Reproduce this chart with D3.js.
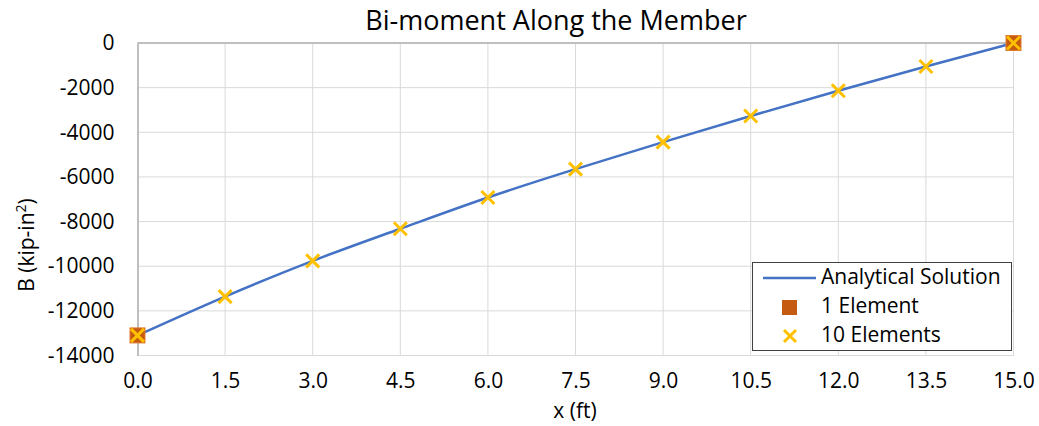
<!DOCTYPE html>
<html>
<head>
<meta charset="utf-8">
<script src="https://cdn.jsdelivr.net/npm/d3@7"></script>
<style>
  body { margin: 0; background: #fff; }
  text { font-family: "Open Sans", sans-serif; fill: #000; }
</style>
</head>
<body>
<svg width="1039" height="426"></svg>
<script>
// positions along member (ft)
var xs = [0, 1.5, 3, 4.5, 6, 7.5, 9, 10.5, 12, 13.5, 15];
// analytical bi-moment (kip-in^2)
var analytical = [-13100, -11360, -9760, -8320, -6920, -5650, -4440, -3270, -2140, -1050, 0];
// 1 element model: end nodes only
var oneElX = [0, 15];
var oneElB = [-13100, 0];
// 10 element model
var tenElB = [-13100, -11360, -9760, -8320, -6920, -5650, -4440, -3270, -2140, -1050, 0];

var xTicks = [0, 1.5, 3, 4.5, 6, 7.5, 9, 10.5, 12, 13.5, 15];
var yTicks = [0, -2000, -4000, -6000, -8000, -10000, -12000, -14000];

var svg = d3.select("svg"),
    pLeft = 137.5, pRight = 1013.5, pTop = 43, pBottom = 355.5;

var x = d3.scaleLinear().domain([0, 15]).range([pLeft, pRight]);
var y = d3.scaleLinear().domain([-14000, 0]).range([pBottom, pTop]);

// gridlines
svg.append("g")
    .selectAll("line")
    .data(yTicks)
    .enter()
        .append("line")
        .attr("x1", pLeft).attr("x2", pRight)
        .attr("y1", function(d) { return y(d); })
        .attr("y2", function(d) { return y(d); })
        .attr("stroke", "#d9d9d9")
        .attr("stroke-width", 1);

svg.append("g")
    .selectAll("line")
    .data(xTicks.slice(1))
    .enter()
        .append("line")
        .attr("x1", function(d) { return x(d); })
        .attr("x2", function(d) { return x(d); })
        .attr("y1", pTop).attr("y2", pBottom)
        .attr("stroke", "#d9d9d9")
        .attr("stroke-width", 1);

// axis lines (plain hyphen for negatives, like the original)
var yAxis = svg.append("g")
    .attr("transform", "translate(" + pLeft + ",0)")
    .call(d3.axisLeft(y).tickValues(yTicks).tickSize(0).tickPadding(23)
        .tickFormat(function(d) { return String(d); }));
yAxis.select(".domain").attr("stroke", "#bfbfbf").attr("stroke-width", 2);
yAxis.selectAll("text").style("font-size", "21px").attr("font-family", null);

var xAxis = svg.append("g")
    .attr("transform", "translate(0," + pBottom + ")")
    .call(d3.axisBottom(x).tickValues(xTicks).tickSize(0).tickPadding(18).tickFormat(d3.format(".1f")));
xAxis.select(".domain").remove();
xAxis.selectAll("text").style("font-size", "21px").attr("font-family", null);

svg.append("line")
    .attr("x1", pLeft).attr("x2", pRight)
    .attr("y1", y(0)).attr("y2", y(0))
    .attr("stroke", "#bfbfbf").attr("stroke-width", 2);

// analytical curve
var line = d3.line()
    .x(function(d, i) { return x(xs[i]); })
    .y(function(d) { return y(d); })
    .curve(d3.curveMonotoneX);

svg.append("path")
    .datum(analytical)
    .attr("d", line)
    .attr("fill", "none")
    .attr("stroke", "#4472c4")
    .attr("stroke-width", 2.5);

// 1 element squares
svg.append("g")
    .selectAll("rect")
    .data(oneElB)
    .enter()
        .append("rect")
        .attr("x", function(d, i) { return x(oneElX[i]) - 7.5; })
        .attr("y", function(d) { return y(d) - 7.5; })
        .attr("width", 15).attr("height", 15)
        .attr("fill", "#c55a11")
        .attr("stroke", "#e07b2e")
        .attr("stroke-width", 1);

// 10 element crosses
var cross = function(cx, cy, s) {
    return "M" + (cx - s) + "," + (cy - s) + "L" + (cx + s) + "," + (cy + s) +
           "M" + (cx - s) + "," + (cy + s) + "L" + (cx + s) + "," + (cy - s);
};
svg.append("g")
    .selectAll("path")
    .data(tenElB)
    .enter()
        .append("path")
        .attr("d", function(d, i) { return cross(x(xs[i]), y(d), 6.5); })
        .attr("stroke", "#ffc000")
        .attr("stroke-width", 3)
        .attr("fill", "none");

// title and axis labels
svg.append("text")
    .attr("x", 556).attr("y", 30)
    .attr("text-anchor", "middle")
    .style("font-size", "27px")
    .text("Bi-moment Along the Member");

svg.append("text")
    .attr("x", 575).attr("y", 418)
    .attr("text-anchor", "middle")
    .style("font-size", "21px")
    .text("x (ft)");

var yl = svg.append("text")
    .attr("transform", "translate(34,245) rotate(-90)")
    .attr("text-anchor", "middle")
    .style("font-size", "21px");
yl.append("tspan").text("B (kip-in");
yl.append("tspan").attr("dy", -8).style("font-size", "14px").text("2");
yl.append("tspan").attr("dy", 8).text(")");

// legend
var legend = svg.append("g");
legend.append("rect")
    .attr("x", 752.5).attr("y", 262.5)
    .attr("width", 259).attr("height", 88)
    .attr("fill", "#fff")
    .attr("stroke", "#404040")
    .attr("stroke-width", 1);

var names = ["Analytical Solution", "1 Element", "10 Elements"];
legend.selectAll("text.lab")
    .data(names)
    .enter()
        .append("text")
        .attr("class", "lab")
        .attr("x", 821)
        .attr("y", function(d, i) { return 277 + i * 29; })
        .attr("dy", "0.35em")
        .style("font-size", "21px")
        .text(function(d) { return d; });

legend.append("line")
    .attr("x1", 763).attr("x2", 816)
    .attr("y1", 278).attr("y2", 278)
    .attr("stroke", "#4472c4").attr("stroke-width", 2.5);
legend.append("rect")
    .attr("x", 782).attr("y", 300)
    .attr("width", 15).attr("height", 15)
    .attr("fill", "#c55a11");
legend.append("path")
    .attr("d", cross(790, 336, 6))
    .attr("stroke", "#ffc000").attr("stroke-width", 3).attr("fill", "none");
</script>
</body>
</html>
